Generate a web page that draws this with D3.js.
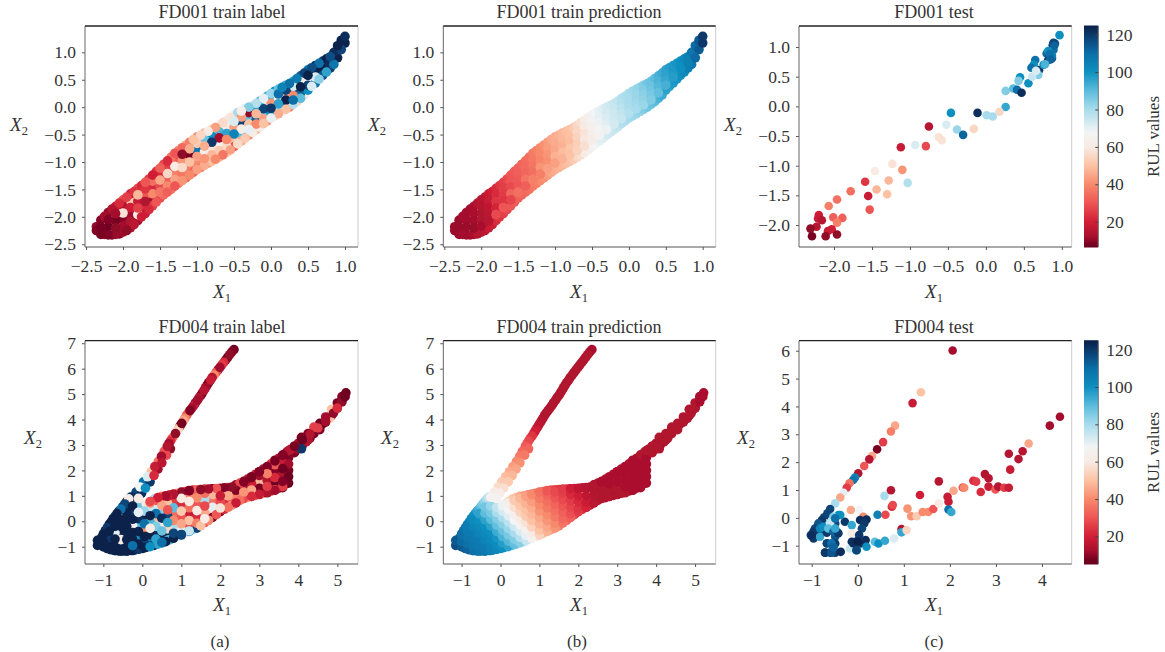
<!DOCTYPE html>
<html><head><meta charset="utf-8">
<script src="https://cdn.jsdelivr.net/npm/d3@7"></script>
<style>
html,body{margin:0;padding:0;background:#fff}
svg{display:block}
text{font-family:"Liberation Serif",serif;fill:#333}
</style></head><body><svg id="c" width="1165" height="652"></svg>
<script>
// ---------- colour bar
const rulStops=[5,7,12,20,30,40,50,60,68,80,90,100,110,118,125];
const rulColours=["#6a001e","#6f0020","#a50f2d","#d11f36","#ee5555","#f88a6c","#fcc2a4","#f8ebe4","#f2f4f5","#a8dcec","#5cbcdc","#0f90c0","#0a6fa8","#0b4478","#0a1f45"];
// ---------- FD001 training embedding: rim of the band
const fd001RimX1=[-2.36,-2.3,-2.25,-2.2,-2.15,-2.1,-2.05,-2,-1.95,-1.9,-1.85,-1.8,-1.75,-1.7,-1.65,-1.6,-1.55,-1.5,-1.45,-1.4,-1.35,-1.3,-1.25,-1.2,-1.15,-1.1,-1.05,-1,-.95,-.9,-.85,-.8,-.75,-.7,-.65,-.6,-.55,-.5,-.45,-.4,-.35,-.3,-.25,-.2,-.15,-.1,-.05,0,.05,.1,.15,.2,.25,.3,.35,.4,.45,.5,.55,.6,.65,.7,.75,.8,.85,.9,.95,1];
const fd001UpperX2=[-2.18,-2.06,-1.99,-1.92,-1.86,-1.81,-1.75,-1.69,-1.64,-1.58,-1.54,-1.48,-1.43,-1.37,-1.31,-1.24,-1.17,-1.11,-1.04,-.98,-.91,-.84,-.79,-.74,-.69,-.64,-.59,-.54,-.51,-.47,-.44,-.41,-.37,-.33,-.28,-.24,-.19,-.14,-.1,-.07,-.03,0,.03,.07,.11,.16,.2,.25,.29,.33,.36,.4,.43,.47,.52,.57,.62,.68,.72,.76,.8,.84,.88,.92,1,1.12,1.22,1.29];
const fd001LowerX2=[-2.25,-2.32,-2.32,-2.33,-2.33,-2.32,-2.31,-2.28,-2.25,-2.2,-2.14,-2.07,-2,-1.94,-1.87,-1.8,-1.73,-1.66,-1.6,-1.55,-1.5,-1.44,-1.39,-1.34,-1.29,-1.24,-1.19,-1.14,-1.1,-1.06,-1.02,-.99,-.95,-.91,-.87,-.83,-.78,-.72,-.67,-.62,-.57,-.51,-.46,-.41,-.36,-.3,-.25,-.2,-.16,-.12,-.08,-.04,0,.05,.1,.16,.22,.31,.38,.44,.51,.58,.64,.71,.78,.9,1.05,1.17];
const fd001RimPred=[11,11,12,12,12,13,14,15,16,18,20,22,24,26,28,30,31,32,33,34,35,37,38,40,41,43,45,46,47,48,49,50,52,55,57,60,63,66,68,70,71,73,74,75,76,78,79,80,81,82,83,85,87,88,90,92,94,96,97,98,99,100,102,105,108,111,114,120];
const fd001UpperLabel=[10,9,12,10,14,18,22,30,26,20,24,28,22,30,26,20,24,32,28,22,36,30,40,34,45,38,50,42,55,48,60,52,44,62,56,70,58,66,80,62,72,85,60,78,90,70,96,82,100,88,104,94,110,98,106,112,118,108,116,122,110,118,124,116,122,124,124,122];
const fd001LowerLabel=[9,8,10,9,8,11,9,12,10,14,16,12,20,18,22,26,30,28,34,32,36,30,38,42,35,40,33,44,38,46,42,50,40,48,36,52,44,30,56,46,52,40,60,48,62,50,42,70,56,46,64,50,40,78,55,90,60,100,72,110,84,116,96,120,108,124,118,124];
// ---------- FD001 training embedding: inside of the band
const fd001InnerX1=[
-2.3,
-2.2,-2.2,
-2.1,-2.1,-2.1,
-2,-2,-2,-2,
-1.9,-1.9,-1.9,-1.9,
-1.8,-1.8,-1.8,-1.8,
-1.7,-1.7,-1.7,-1.7,
-1.6,-1.6,-1.6,-1.6,
-1.5,-1.5,-1.5,-1.5,
-1.4,-1.4,-1.4,-1.4,
-1.3,-1.3,-1.3,-1.3,
-1.2,-1.2,-1.2,-1.2,
-1.1,-1.1,-1.1,-1.1,
-1,-1,-1,-1,
-.9,-.9,-.9,-.9,
-.8,-.8,-.8,-.8,
-.7,-.7,-.7,-.7,
-.6,-.6,-.6,-.6,
-.5,-.5,-.5,-.5,
-.4,-.4,-.4,-.4,
-.3,-.3,-.3,-.3,
-.2,-.2,-.2,-.2,
-.1,-.1,-.1,-.1,
0,0,0,0,
.1,.1,.1,.1,
.2,.2,.2,.2,
.3,.3,.3,.3,
.4,.4,.4,
.5,.5,.5,
.6,.6,
.7,
.8];
const fd001InnerX2=[
-2.19,
-2.05,-2.18,
-1.94,-2.07,-2.2,
-1.81,-1.93,-2.05,-2.17,
-1.7,-1.83,-1.95,-2.08,
-1.6,-1.72,-1.84,-1.96,
-1.49,-1.6,-1.72,-1.83,
-1.35,-1.46,-1.58,-1.69,
-1.22,-1.33,-1.44,-1.55,
-1.1,-1.21,-1.32,-1.44,
-.96,-1.08,-1.2,-1.32,
-.86,-.98,-1.1,-1.22,
-.76,-.88,-1,-1.12,
-.66,-.78,-.9,-1.02,
-.59,-.71,-.82,-.94,
-.53,-.64,-.76,-.87,
-.45,-.56,-.68,-.79,
-.36,-.48,-.59,-.71,
-.26,-.37,-.49,-.6,
-.18,-.29,-.4,-.51,
-.1,-.2,-.31,-.41,
-.03,-.12,-.22,-.31,
.07,-.03,-.12,-.21,
.16,.07,-.02,-.11,
.24,.15,.06,-.03,
.31,.22,.13,.04,
.38,.3,.21,.13,
.47,.37,.26,
.58,.49,.4,
.65,.55,
.71,
.81];
const fd001InnerLabel=[
8,
9,7,
12,8,10,
14,58,9,12,
52,20,12,14,
48,18,26,62,
24,30,14,22,
35,22,40,12,
22,45,28,36,
26,55,32,40,
30,60,38,44,
10,42,56,36,
46,8,50,38,
52,108,44,40,
88,46,62,42,
100,120,58,48,
92,12,66,52,
60,96,40,56,
72,44,104,50,
44,118,62,90,
10,88,50,70,
96,48,112,40,
60,118,84,44,
92,42,120,100,
110,66,96,80,
118,48,124,104,
72,122,40,110,
60,124,112,
124,66,118,
124,72,
124,
122];
const fd001InnerPred=[
11,
12,11,
13,12,11,
15,14,14,13,
18,17,16,15,
22,24,21,28,
26,25,24,30,
30,28,33,27,
32,31,30,35,
34,33,36,32,
37,36,35,38,
40,39,42,38,
43,42,41,44,
46,45,47,44,
48,47,49,47,
50,49,51,50,
55,54,53,54,
60,58,59,57,
66,64,63,62,
70,69,67,66,
73,72,71,69,
75,74,74,73,
78,77,76,75,
80,80,79,78,
82,82,81,80,
85,84,83,82,
88,87,86,85,
92,91,89,
96,95,93,
98,97,
100,
105];
// ---------- FD004 training embedding: rim of the shape
const fd004RimX1=[
-1.1,-1,-.9,-.8,-.7,-.6,-.5,-.4,-.3,-.2,-.1,0,.1,.2,.3,.4,.5,.6,.7,.8,.9,1,1.1,1.2,1.3,1.4,1.5,1.6,1.7,1.8,1.9,2,2.1,2.2,2.3,2.4,2.5,2.6,2.7,2.8,2.9,3,3.1,3.2,3.3,3.4,3.5,3.6,3.7,
.1,.2,.3,.4,.5,.6,.7,.8,.9,1,1.1,1.2,1.3,1.4,1.5,1.6,1.7,1.8,1.9,2,2.1,2.2,2.3,2.4,2.5,2.6,2.7,2.8,2.9,3,3.1,3.2,3.3,3.4,3.5,3.6,3.7,3.8,3.9,4,4.1,4.2,4.3,4.4,4.5,4.6,4.7,4.8,4.9,5,5.1,5.2,
3.9,4,4.1,4.2,4.3,
-1.12,-1.05,-1,-.95,-.9,-.85,-.8,-.75,-.7,-.65,-.6,-.55,-.5,-.45,-.4,-.35,-.3,
2.29,2.19,2.09,1.99,1.89,1.79,1.7,1.62,1.54,1.45,1.36,1.27,1.17,1.09,1.01,.93,.85,.76,.68];
const fd004RimX2=[
-.9,-1,-1.07,-1.12,-1.15,-1.17,-1.17,-1.17,-1.15,-1.13,-1.1,-1.07,-1.03,-1,-.95,-.9,-.85,-.8,-.73,-.67,-.6,-.54,-.47,-.4,-.33,-.27,-.18,-.07,.04,.15,.26,.38,.47,.55,.64,.72,.82,.9,.93,.98,1.02,1.06,1.1,1.14,1.19,1.24,1.3,1.36,1.5,
.68,.78,.87,.93,.98,1,1.04,1.07,1.1,1.13,1.17,1.21,1.23,1.24,1.25,1.26,1.27,1.28,1.29,1.3,1.32,1.33,1.35,1.43,1.5,1.57,1.66,1.75,1.85,1.95,2.05,2.15,2.26,2.37,2.48,2.6,2.72,2.83,2.95,3.07,3.2,3.32,3.42,3.54,3.67,3.8,3.93,4.05,4.25,4.45,4.7,4.9,
2.72,2.85,2.98,3.12,3.27,
-.8,-.65,-.5,-.37,-.25,-.12,-.02,.1,.2,.3,.4,.48,.58,.68,.78,.88,.95,
6.65,6.45,6.25,6.05,5.85,5.65,5.45,5.25,5.05,4.85,4.65,4.45,4.25,4.05,3.85,3.65,3.45,3.25,3.05];
const fd004RimLabel=[
124,124,124,124,124,124,124,124,124,124,120,124,124,100,124,96,110,124,90,124,72,118,60,110,80,118,50,66,40,72,30,55,22,60,40,28,35,18,45,22,30,18,40,14,22,30,12,25,9,
60,28,80,20,35,12,22,14,40,10,28,9,18,32,10,24,12,8,30,14,9,22,10,12,28,9,14,8,20,7,12,9,24,8,14,7,10,18,8,12,7,9,14,8,26,7,12,50,10,8,9,7,
9,12,8,14,9,
124,124,124,124,120,124,124,124,118,124,124,110,122,118,124,60,120,
9,7,22,12,30,15,8,12,9,14,10,12,35,40,8,50,10,30,12];
const fd004RimPred=[
116,115,114,113,112,111,109,108,107,105,103,101,99,94,90,87,83,77,72,66,58,52,49,46,44,41,38,35,33,30,27,25,23,20,18,16,15,14,14,14,14,14,14,14,14,14,14,14,14,
66,56,52,49,45,43,41,38,36,34,33,31,29,27,25,24,22,20,19,18,16,15,14,14,14,14,14,14,14,14,14,14,14,14,14,14,14,14,14,14,14,14,14,14,14,14,14,14,14,13,13,13,
14,14,14,14,14,
115,113,111,110,108,107,105,103,101,100,96,93,89,86,83,79,76,
14,14,14,14,14,14,14,14,14,14,14,14,14,14,16,18,22,26,30];
// ---------- FD004 training embedding: inside of the shape and the upper arm
const fd004InnerX1=[
-1.15,-1.15,
-1,-1,-1,
-.85,-.85,-.85,-.85,-.85,
-.7,-.7,-.7,-.7,-.7,-.7,
-.55,-.55,-.55,-.55,-.55,-.55,-.55,
-.4,-.4,-.4,-.4,-.4,-.4,-.4,-.4,
-.25,-.25,-.25,-.25,-.25,-.25,-.25,-.25,
-.1,-.1,-.1,-.1,-.1,-.1,-.1,-.1,
.05,.05,.05,.05,.05,.05,.05,.05,
.2,.2,.2,.2,.2,.2,.2,.2,
.35,.35,.35,.35,.35,.35,.35,.35,
.5,.5,.5,.5,.5,.5,.5,.5,
.65,.65,.65,.65,.65,.65,.65,.65,
.8,.8,.8,.8,.8,.8,.8,.8,
1,1,1,1,1,1,1,1,
1.2,1.2,1.2,1.2,1.2,1.2,1.2,1.2,
1.4,1.4,1.4,1.4,1.4,1.4,1.4,
1.6,1.6,1.6,1.6,1.6,1.6,1.6,
1.8,1.8,1.8,1.8,1.8,1.8,
2,2,2,2,2,
2.2,2.2,2.2,2.2,
2.4,2.4,2.4,2.4,
2.6,2.6,2.6,2.6,
2.8,2.8,2.8,2.8,
3,3,3,3,3,
3.2,3.2,3.2,3.2,3.2,
3.4,3.4,3.4,3.4,3.4,3.4,
3.6,3.6,3.6,3.6,3.6,3.6,
3.75,3.75,3.75,3.75,3.75,3.75,
3.9,3.9,
4.08,4.08,4.08,
4.25,4.25,
4.4,4.4,
4.55,4.55,
4.7,4.7,
4.85,4.85,
5,5,
5.12,5.12,
5.22,
2.35,2.24,2.14,2.04,1.94,1.84,1.75,1.66,1.58,1.5,
1.41,1.32,1.22,1.13,1.05,.97,.89,.81,.72,.64,
.56,.49,.41,.32,.23,.13,.03,-.06,-.16,-.25,
.72,.62,.5,.4,.3,.2,.08,-.02,-.1];
const fd004InnerX2=[
-.95,-.75,
-1,-.8,-.55,
-1.07,-.88,-.64,-.4,-.22,
-1.15,-.95,-.7,-.45,-.2,.03,
-1.17,-.98,-.72,-.46,-.2,.06,.3,
-1.17,-.98,-.72,-.46,-.2,.06,.32,.56,
-1.15,-.96,-.7,-.44,-.18,.08,.34,.6,
-1.09,-.9,-.65,-.4,-.15,.1,.35,.55,
-1.04,-.85,-.6,-.35,-.1,.15,.4,.62,
-.98,-.78,-.53,-.28,-.03,.22,.47,.72,
-.9,-.7,-.45,-.2,.05,.3,.55,.82,
-.83,-.63,-.38,-.13,.12,.37,.62,.9,
-.74,-.55,-.3,-.05,.2,.45,.7,.98,
-.66,-.47,-.22,.03,.28,.53,.78,1.05,
-.52,-.35,-.1,.15,.4,.65,.9,1.15,
-.38,-.22,.03,.28,.53,.78,1.02,1.2,
-.25,-.08,.17,.42,.67,.92,1.15,
-.05,.1,.35,.6,.85,1.1,1.26,
.15,.3,.55,.8,1.05,1.28,
.38,.52,.76,1,1.28,
.55,.75,1,1.3,
.72,.97,1.22,1.42,
.9,1.15,1.4,1.55,
.98,1.23,1.48,1.72,
1.05,1.3,1.55,1.8,1.95,
1.12,1.37,1.62,1.87,2.12,
1.22,1.47,1.72,1.97,2.22,2.4,
1.32,1.57,1.82,2.07,2.32,2.6,
1.5,1.75,2,2.25,2.5,2.78,
2.7,2.95,
2.85,3.1,3.3,
3.2,3.45,
3.45,3.7,
3.6,3.85,
3.9,4.1,
4.15,4.4,
4.45,4.65,
4.7,4.9,
5.05,
6.75,6.55,6.35,6.15,5.95,5.75,5.55,5.35,5.15,4.95,
4.75,4.55,4.35,4.15,3.95,3.75,3.55,3.35,3.15,2.95,
2.75,2.55,2.35,2.15,1.95,1.75,1.55,1.35,1.15,.95,
2.85,2.6,2.3,2.05,1.8,1.55,1.3,1.1,.9];
const fd004InnerLabel=[
124,124,
124,124,122,
124,124,120,124,124,
124,124,124,70,124,118,
124,124,60,124,124,124,50,
124,124,124,124,124,124,124,124,
124,110,124,124,65,124,120,124,
124,124,100,124,90,122,70,88,
124,118,124,40,110,124,82,78,
124,105,124,60,92,124,75,40,
124,96,122,85,50,110,72,30,
110,124,88,60,122,85,45,20,
92,124,55,96,118,30,50,18,
60,118,80,40,35,90,25,14,
118,70,45,30,52,22,60,12,
75,28,50,18,35,60,40,9,
55,38,22,60,30,40,20,
30,62,45,28,80,35,16,
8,55,70,35,48,22,
10,58,28,18,12,
35,22,45,12,
18,38,9,25,
28,42,14,9,
12,45,20,8,
20,8,48,12,9,
9,25,14,38,10,
12,7,22,9,30,8,
7,9,14,7,18,9,
7,7,8,12,9,15,
9,12,
120,10,8,
14,9,
8,26,
9,7,
8,12,
10,50,
22,8,
10,9,
7,
7,10,8,25,12,40,18,8,15,9,
12,20,9,30,45,8,55,48,22,14,
30,12,35,18,50,72,110,68,118,122,
10,28,16,12,22,120,100,122,60];
const fd004InnerPred=[
116,114,
114,111,110,
112,110,108,107,106,
110,108,107,106,104,102,
108,107,106,104,102,100,96,
107,106,104,102,100,96,90,87,
105,104,102,100,96,90,86,82,
103,101,99,94,89,85,80,76,
100,97,92,88,84,79,73,69,
96,91,86,82,77,71,67,62,
89,85,80,74,68,63,57,52,
84,78,72,66,60,54,51,48,
75,70,64,58,52,50,47,44,
66,60,54,50,48,46,43,40,
54,50,47,45,42,40,37,35,
47,45,42,40,37,35,33,30,
42,40,37,35,33,30,28,
36,34,32,30,28,26,25,
32,29,27,25,22,20,
25,24,22,20,17,
21,19,17,15,
16,15,14,14,
14,14,14,13,
14,14,13,13,
14,14,13,13,13,
14,13,13,13,13,
13,13,13,13,13,13,
13,13,13,13,13,14,
13,13,13,13,13,14,
14,14,
14,14,14,
14,14,
14,14,
14,14,
14,14,
14,14,
14,14,
13,13,
13,
13,14,14,14,14,14,14,14,14,14,
14,14,14,14,15,17,20,24,28,31,
34,37,40,43,46,49,52,56,60,65,
33,37,41,45,48,52,57,61,66];
// ---------- FD001 test set
const fd001TestX1=[.97,.91,.88,.89,.8,.85,.87,.82,.65,.63,.6,.7,.76,.69,.56,.45,.43,.26,.36,.41,.47,.26,.18,.09,.01,-.11,-.46,-.52,-.38,-.3,-.16,-.75,-.62,-.58,-.79,-.93,-1.12,-1.23,-1.1,-1.46,-1.28,-1.03,-1.59,-1.3,-1.44,-1.55,-1.78,-1.53,-1.96,-2.07,-2.2,-2.21,-2.16,-2.01,-1.89,-1.96,-2.23,-2.31,-2.03,-2.08,-1.96,-2.29,-2.11,
.89,.9,.82,.87,.84,.85,.78,.61,.66];
const fd001TestX2=[1.2,1.06,1.03,.95,.89,.87,.81,.78,.78,.7,.65,.61,.7,.53,.39,.49,.43,.26,.3,.28,.23,-.01,-.09,-.17,-.15,-.11,-.11,-.31,-.39,-.48,-.38,-.34,-.52,-.57,-.67,-.65,-.69,-.97,-1.07,-1.09,-1.25,-1.29,-1.27,-1.48,-1.4,-1.51,-1.43,-1.74,-1.57,-1.68,-1.83,-1.89,-1.92,-1.87,-1.88,-1.96,-2.03,-2.06,-2.07,-2.1,-2.16,-2.19,-2.19,
1.07,1.02,.93,.85,.88,.79,.71,.5,.6];
const fd001TestRul=[100,115,118,110,112,105,115,118,110,100,110,120,100,85,100,100,85,85,90,110,122,95,55,80,80,122,100,72,82,112,55,15,58,58,28,72,18,58,42,60,48,78,24,50,48,18,35,30,35,38,20,18,15,32,32,38,15,10,20,18,10,8,10,
118,112,100,105,110,112,92,75,72];
// ---------- FD004 test set
const fd004TestX1=[2.06,1.37,1.19,.81,.72,.55,.42,.31,.25,.14,.01,-.06,-.1,-.18,-.24,-.31,-.38,-.49,-.6,-.66,-.73,-.78,-.86,-.93,-1.02,-.96,-.82,-.75,-.67,-.82,-.67,-.49,-.46,-.49,-.42,-.53,-.28,-.13,-.15,.03,.12,.19,.05,.14,.09,-.13,.03,-.13,-.01,-.1,.05,.17,.19,.37,.45,.59,.79,-.67,-.49,-.71,-.6,-.49,-.37,-.53,-.17,-.02,.43,.6,.58,.72,.74,.76,1.08,1.16,1.28,1.41,1.53,1.64,1.76,1.35,.95,.95,1.06,1.95,1.97,1.97,2.03,2.08,1.76,2.28,2.31,2.51,2.57,2.76,2.84,2.67,2.84,2.99,3.05,3.18,3.28,3.31,3.28,3.49,3.58,3.71,4.17,4.39,
-.78,-.857,-.93,-.965,-1,-.82,-.75,-.6,-.64,-.53,-.42,-.49,-.38,-.49,-.67,-.57,-.71,-.57,-.53,-.1,0,-.03];
const fd004TestX2=[6.01,4.51,4.12,3.31,3.1,2.72,2.46,2.22,2.1,1.86,1.6,1.45,1.36,1.24,1.08,.9,.73,.52,.32,.16,.02,-.14,-.26,-.44,-.62,-.74,-.44,-.32,-.2,-.68,-.53,-.2,-.5,-.68,.1,.04,-.14,-.26,.28,.28,.04,-.06,-.08,-.2,-.38,-.56,-.62,-.86,-.82,-.92,-.92,-.8,-1.04,-.86,-.92,-.82,-.74,-.92,-.92,-1.25,-1.25,-1.25,-1.22,-1.06,-1.1,-1.16,.11,.11,.79,.99,.4,.46,.33,.06,.06,.21,.21,.32,.52,.82,-.4,-.52,-.44,.76,.58,.3,.21,.97,1.31,1.09,1.08,1.33,1.3,1.57,1.42,.93,1.12,1.02,1.12,1.08,1.08,1.73,2.3,2.11,2.39,2.67,3.31,3.63,
-.08,-.2,-.38,-.5,-.62,-.38,-.32,-.2,-.38,-.5,-.55,-.38,.1,-.02,-.91,-.91,-1.25,-1.25,-1.06,-.91,-.85,-1.16];
const fd004TestRul=[12,50,18,45,38,25,8,45,15,30,14,105,108,35,25,70,45,80,118,118,118,115,112,120,118,120,118,110,85,95,120,118,120,115,100,85,120,95,45,68,40,122,122,120,118,60,120,122,118,110,122,122,100,90,100,95,72,115,120,120,118,120,122,105,75,100,105,28,80,15,22,28,42,42,52,40,40,30,60,20,15,95,55,18,18,110,95,45,15,30,40,22,25,14,15,22,18,30,15,25,18,18,15,15,15,45,12,12,
120,115,118,120,122,105,100,75,90,112,120,95,100,110,118,110,120,115,112,122,124,118];
// ---------- ticks, captions
const topTrainTicks=[-2.5,-2,-1.5,-1,-.5,0,.5,1];
const topTestXTicks=[-2,-1.5,-1,-.5,0,.5,1];
const topTestYTicks=[-2,-1.5,-1,-.5,0,.5,1];
const botTrainXTicks=[-1,0,1,2,3,4,5];
const botTrainYTicks=[-1,0,1,2,3,4,5,6,7];
const botTestXTicks=[-1,0,1,2,3,4];
const botTestYTicks=[-1,0,1,2,3,4,5,6];
const rulTicks=[20,40,60,80,100,120];
const columnCaptions=["(a)","(b)","(c)"];

const svg=d3.select("#c");
svg.append("defs").append("filter").attr("id","soft").attr("x","-5%").attr("y","-5%").attr("width","110%").attr("height","110%")
  .append("feGaussianBlur").attr("stdDeviation",0.6);

const zip=(a,b,c)=>a.map((v,i)=>({x:v,y:b[i],v:c[i]}));
// label panels: the points lie in mixed drawing order, so no column sits on top of its neighbour
const mixed=a=>a.map((d,i)=>[(i*97)%211,i,d]).sort((p,q)=>p[0]-q[0]||p[1]-q[1]).map(p=>p[2]);
const train1=(lab)=>{const a=[...zip(fd001RimX1,fd001UpperX2,lab?fd001UpperLabel:fd001RimPred),...zip(fd001RimX1,fd001LowerX2,lab?fd001LowerLabel:fd001RimPred),...zip(fd001InnerX1,fd001InnerX2,lab?fd001InnerLabel:fd001InnerPred)];return lab?mixed(a):a;};
const train4=(lab)=>{const a=[...zip(fd004RimX1,fd004RimX2,lab?fd004RimLabel:fd004RimPred),...zip(fd004InnerX1,fd004InnerX2,lab?fd004InnerLabel:fd004InnerPred)];return lab?mixed(a):a;};
const panels=[
 {t:"FD001 train label",pts:train1(true),l:85,r:358,T:26,B:247,xd:[-2.514,1.176],yd:[-2.55,1.48],xt:topTrainTicks,yt:topTrainTicks,f:".1f",lx:19,ly:125,xc:222,xb:298,xtb:272,cd:[6.5,124.6],dot:4.8},
 {t:"FD001 train prediction",pts:train1(false),l:443.3,r:715.7,T:26,B:247,xd:[-2.514,1.176],yd:[-2.55,1.48],xt:topTrainTicks,yt:topTrainTicks,f:".1f",lx:377,ly:125,xc:579,xb:298,xtb:272,cd:[6.5,124.6],dot:4.8},
 {t:"FD001 test",pts:zip(fd001TestX1,fd001TestX2,fd001TestRul),l:799,r:1071.7,T:26,B:247,xd:[-2.461,1.13],yd:[-2.37,1.354],xt:topTestXTicks,yt:topTestYTicks,f:".1f",lx:733,ly:125,xc:934,xb:298,xtb:272,cd:[6.5,124.6],dot:4.3,bar:true},
 {t:"FD004 train label",pts:train4(true),l:85,r:358,T:340.7,B:564,xd:[-1.47,5.53],yd:[-1.68,7.1],xt:botTrainXTicks,yt:botTrainYTicks,f:"d",lx:33,ly:438,xc:222,xb:611,xtb:586,cd:[6.5,124.6],dot:4.8,cap:0},
 {t:"FD004 train prediction",pts:train4(false),l:443.3,r:715.7,T:340.7,B:564,xd:[-1.47,5.53],yd:[-1.68,7.1],xt:botTrainXTicks,yt:botTrainYTicks,f:"d",lx:390,ly:438,xc:579,xb:611,xtb:586,cd:[6.5,124.6],dot:4.8,cap:1},
 {t:"FD004 test",pts:zip(fd004TestX1,fd004TestX2,fd004TestRul),l:799,r:1071.7,T:340.7,B:564,xd:[-1.276,4.645],yd:[-1.657,6.36],xt:botTestXTicks,yt:botTestYTicks,f:"d",lx:746,ly:438,xc:934,xb:611,xtb:586,cd:[5.2,124.8],dot:4.3,bar:true,cap:2}
];
const col=d3.scaleLinear().domain(rulStops).range(rulColours).clamp(true);

panels.forEach(p=>{
  const W=p.r-p.l,H=p.B-p.T;
  const g=svg.append("g").attr("transform",`translate(${p.l},${p.T})`);
  const x=d3.scaleLinear().domain(p.xd).range([0,W]);
  const y=d3.scaleLinear().domain(p.yd).range([H,0]);
  g.append("g").attr("filter","url(#soft)").selectAll("circle").data(p.pts).join("circle")
    .attr("cx",d=>x(d.x)).attr("cy",d=>y(d.y)).attr("r",p.dot).attr("fill",d=>col(d.v));
  const fmt=d3.format(p.f);
  const ax=g.append("g").attr("transform",`translate(0,${H})`).call(d3.axisBottom(x).tickValues(p.xt).tickFormat(fmt).tickSize(3).tickPadding(0));
  const ay=g.append("g").call(d3.axisLeft(y).tickValues(p.yt).tickFormat(fmt).tickSize(3).tickPadding(6));
  [ax,ay].forEach(a=>{a.select(".domain").remove();a.selectAll("line").attr("stroke","#555");a.selectAll("text").style("font-size","17.5px").style("font-family",'"Liberation Serif",serif').attr("fill","#333");});
  ax.selectAll("text").attr("dy",null).attr("y",p.xtb-p.B);
  g.append("line").attr("x1",W).attr("x2",W).attr("y1",0).attr("y2",H).attr("stroke","#ccc");
  g.append("line").attr("x1",0).attr("x2",0).attr("y1",0).attr("y2",H).attr("stroke","#666");
  g.append("line").attr("x1",0).attr("x2",W).attr("y1",H).attr("y2",H).attr("stroke","#555");
  g.append("line").attr("x1",0).attr("x2",W).attr("y1",0).attr("y2",0).attr("stroke","#222").attr("stroke-width",1.3);
  svg.append("text").attr("x",p.xc).attr("y",p.T-8).attr("text-anchor","middle").style("font-size","18px").text(p.t);
  const axLabel=(cx,by,sub)=>{
    const t=svg.append("text").attr("x",cx).attr("y",by).attr("text-anchor","middle");
    t.append("tspan").style("font-style","italic").style("font-size","19px").text("X");
    t.append("tspan").attr("dy",4).style("font-size","12.5px").text(sub);
  };
  axLabel(p.xc,p.xb,"1");
  axLabel(p.lx,p.ly+6,"2");
  if(p.cap!==undefined) svg.append("text").attr("x",p.xc-(p.cap==2?0:2)).attr("y",647).attr("text-anchor","middle").style("font-size","17px").text(columnCaptions[p.cap]);
  if(p.bar){
    const bx=1084,bw=14.3;
    const cy=d3.scaleLinear().domain(p.cd).range([p.B,p.T]);
    const steps=d3.range(p.cd[0],p.cd[1],(p.cd[1]-p.cd[0])/221);
    svg.append("g").selectAll("rect").data(steps).join("rect").attr("x",bx).attr("width",bw)
      .attr("y",d=>cy(d)-1.5).attr("height",2).attr("fill",d=>col(d));
    svg.append("line").attr("x1",bx+bw).attr("x2",bx+bw).attr("y1",p.T).attr("y2",p.B).attr("stroke","#777");
    const ca=svg.append("g").attr("transform",`translate(${bx+bw},0)`).call(d3.axisRight(cy).tickValues(rulTicks).tickSize(3).tickPadding(5));
    ca.select(".domain").remove();
    ca.selectAll("line").attr("stroke","#444").attr("transform","translate(-3,0)");
    ca.selectAll("text").style("font-size","17.5px").style("font-family",'"Liberation Serif",serif').attr("fill","#333");
    svg.append("text").attr("transform",`translate(1159,${(p.T+p.B)/2}) rotate(-90)`).attr("text-anchor","middle").style("font-size","17px").text("RUL values");
  }
});
</script></body></html>
